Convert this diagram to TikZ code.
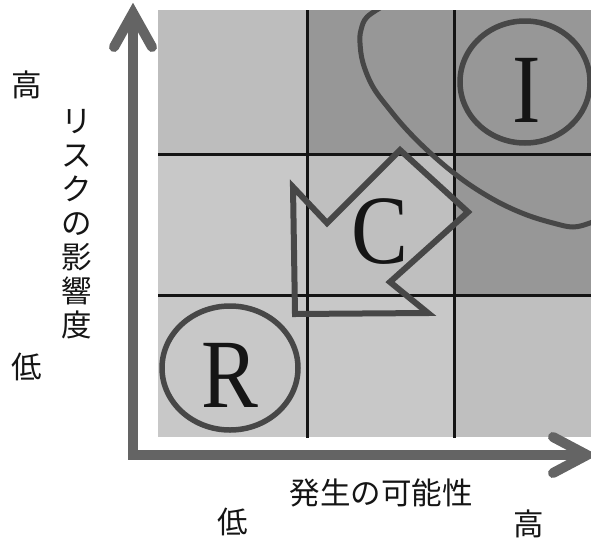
\documentclass[tikz,border=0pt]{standalone}
\usepackage{fontspec}
\newfontfamily\jp{Noto Sans CJK JP}
\newfontfamily\lettr{Liberation Serif}
\definecolor{cellA}{HTML}{BDBDBD}
\definecolor{cellB}{HTML}{979797}
\definecolor{cellC}{HTML}{C8C8C8}
\definecolor{cellD}{HTML}{BFBFBF}
\definecolor{axisgray}{HTML}{646464}
\definecolor{ringgray}{HTML}{474747}
\definecolor{gridblack}{HTML}{141414}
\definecolor{inkblack}{HTML}{151515}
\begin{document}
\begin{tikzpicture}[x=1pt,y=-1pt,
  jplabel/.style={font=\jp\fontsize{30.5}{34}\selectfont, inner sep=0pt, text=inkblack, align=center},
  bigletter/.style={font=\lettr\fontsize{98}{98}\selectfont, inner sep=0pt, text=inkblack},
  ring/.style={draw=ringgray, line width=5.5pt},
  axisline/.style={draw=axisgray, line width=10pt, miter limit=10},
  chevron/.style={draw=axisgray, line width=10pt, line cap=round, line join=miter},
  gridline/.style={draw=gridblack, line width=3pt}]
\useasboundingbox (0,0) rectangle (591,541);
% cells
\fill[cellA] (158,10) rectangle (307,154);
\fill[cellB] (307,10) rectangle (591,154);
\fill[cellC] (158,154) rectangle (307,295);
\fill[cellD] (307,154) rectangle (454,295);
\fill[cellB] (454,154) rectangle (591,295);
\fill[cellC] (158,295) rectangle (454,437);
\fill[cellD] (454,295) rectangle (591,437);
% grid lines
\draw[gridline] (307,10) -- (307,438);
\draw[gridline] (454,10) -- (454,438);
\draw[gridline] (158,154) -- (591,154);
\draw[gridline] (158,295) -- (591,295);
% big curve (clipped to grid)
\begin{scope}
  \clip (158,10) rectangle (591,437);
  \draw[ring, line width=5pt] plot[smooth, tension=0.6] coordinates {(385,5) (367,17) (361,30) (360,43) (363,63) (373,87) (390,110) (407,130) (427,150) (450,170) (473,187) (500,203) (527,215) (553,223) (573,227) (590,223) (600,218)};
\end{scope}
% arrow shape C
\draw[ring, line width=6pt, line join=miter] (400,150) -- (468,212) -- (390,282) -- (428,313) -- (295,314) -- (293,187) -- (327,223) -- cycle;
% rings
\draw[ring] (230,368) ellipse [x radius=68, y radius=62];
\draw[ring] (525,82) ellipse [x radius=65, y radius=61];
% letters
\node[bigletter] (R) at (230,375) {\scalebox{0.87}[1]{R}};
\node[bigletter] (I) at (527,90) {\scalebox{0.87}[1]{I}};
\node[bigletter] (C) at (380,232) {\scalebox{0.87}[1]{C}};
% axes
\coordinate (origin) at (133,455);
\coordinate (ytip) at (133,13);
\coordinate (xtip) at (587,455);
\draw[axisline] (ytip) -- (origin) -- (xtip);
\draw[chevron] (114,47) -- (ytip) -- (152,47);
\draw[chevron] (553,437) -- (xtip) -- (553,473);
% labels
\node[jplabel] (yhigh) at (27,85) {高};
\node[jplabel] (ylow) at (27,367) {低};
\node[jplabel] (ytitle) at (77,224) {リ\\ス\\ク\\の\\影\\響\\度};
\node[jplabel] (xtitle) at (381,493) {発生の可能性};
\node[jplabel] (xlow) at (233,522) {低};
\node[jplabel] (xhigh) at (529,524) {高};
\end{tikzpicture}
\end{document}
